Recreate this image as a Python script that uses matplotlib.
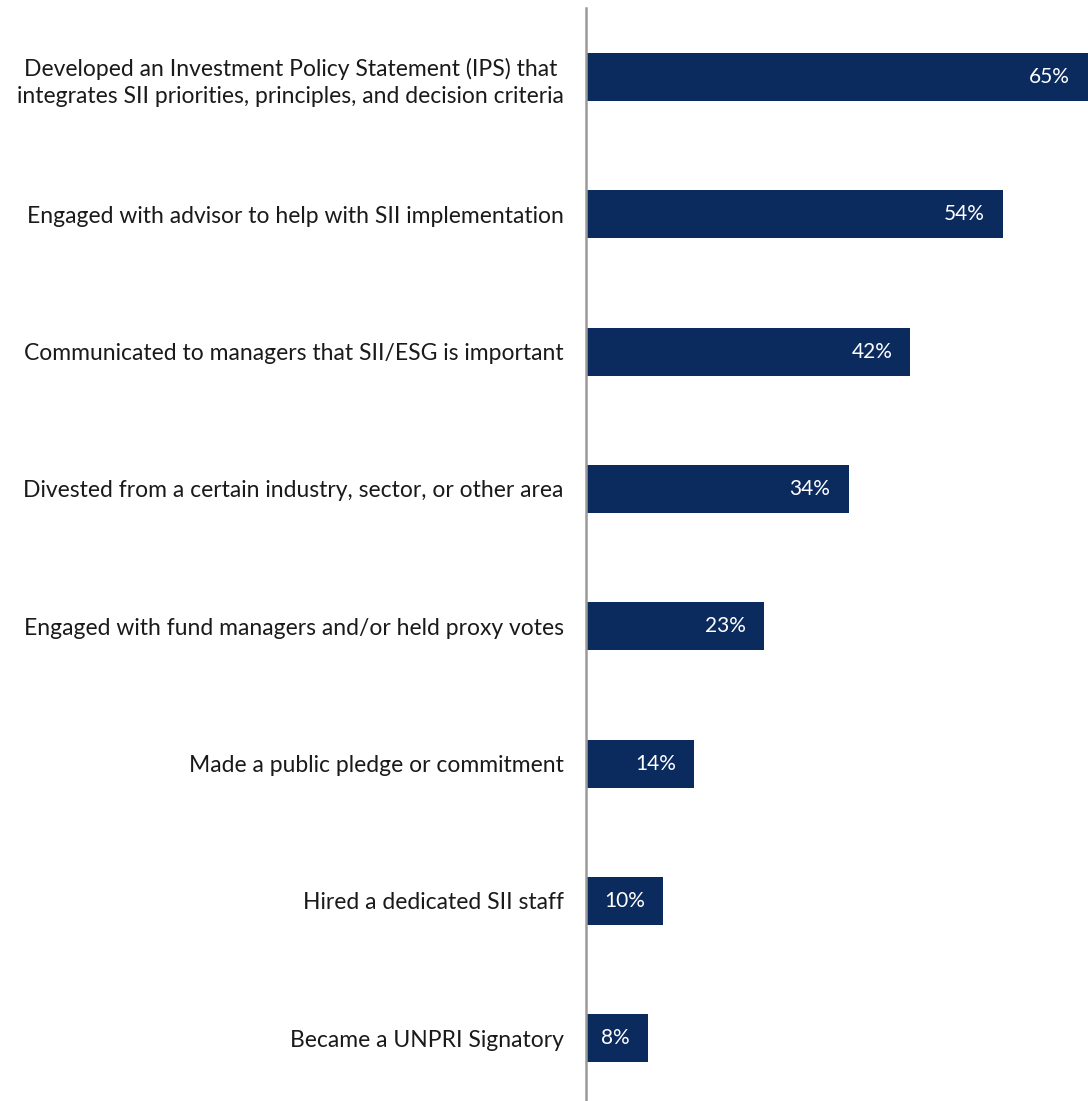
import matplotlib.pyplot as plt

plt.rcParams['font.family'] = ['Lato', 'DejaVu Sans']

acoes = [
    "Developed an Investment Policy Statement (IPS) that\nintegrates SII priorities, principles, and decision criteria",
    "Engaged with advisor to help with SII implementation",
    "Communicated to managers that SII/ESG is important",
    "Divested from a certain industry, sector, or other area",
    "Engaged with fund managers and/or held proxy votes",
    "Made a public pledge or commitment",
    "Hired a dedicated SII staff",
    "Became a UNPRI Signatory",
]
percentuais = [65, 54, 42, 34, 23, 14, 10, 8]

cor_barra = '#0b2a5e'

fig = plt.figure(figsize=(10.88, 11.01), dpi=100)
ax = fig.add_axes([0.5386, -0.0054, 0.4614, 0.9978])

pos = list(range(len(acoes)))
ax.barh(pos, percentuais, height=0.35, color=cor_barra)
ax.set_ylim(len(acoes) - 0.5, -0.5)
ax.set_xlim(0, 65)

for y, v in zip(pos, percentuais):
    ax.annotate(f"{v}%", xy=(v, y), xytext=(-13, 0), textcoords='offset points',
                ha='right', va='center', color='white', fontsize=15)

ax.set_yticks(pos)
ax.set_yticklabels(acoes, fontsize=16.5, color='#1a1a1a', ha='right',
                   multialignment='center', linespacing=1.4)
ax.tick_params(axis='y', length=0, pad=16)
ax.set_xticks([])

for lado in ['top', 'right', 'bottom']:
    ax.spines[lado].set_visible(False)
ax.spines['left'].set_color('#9a9a9a')
ax.spines['left'].set_linewidth(1.8)

fig.savefig('out.png', dpi=100)
plt.close()
